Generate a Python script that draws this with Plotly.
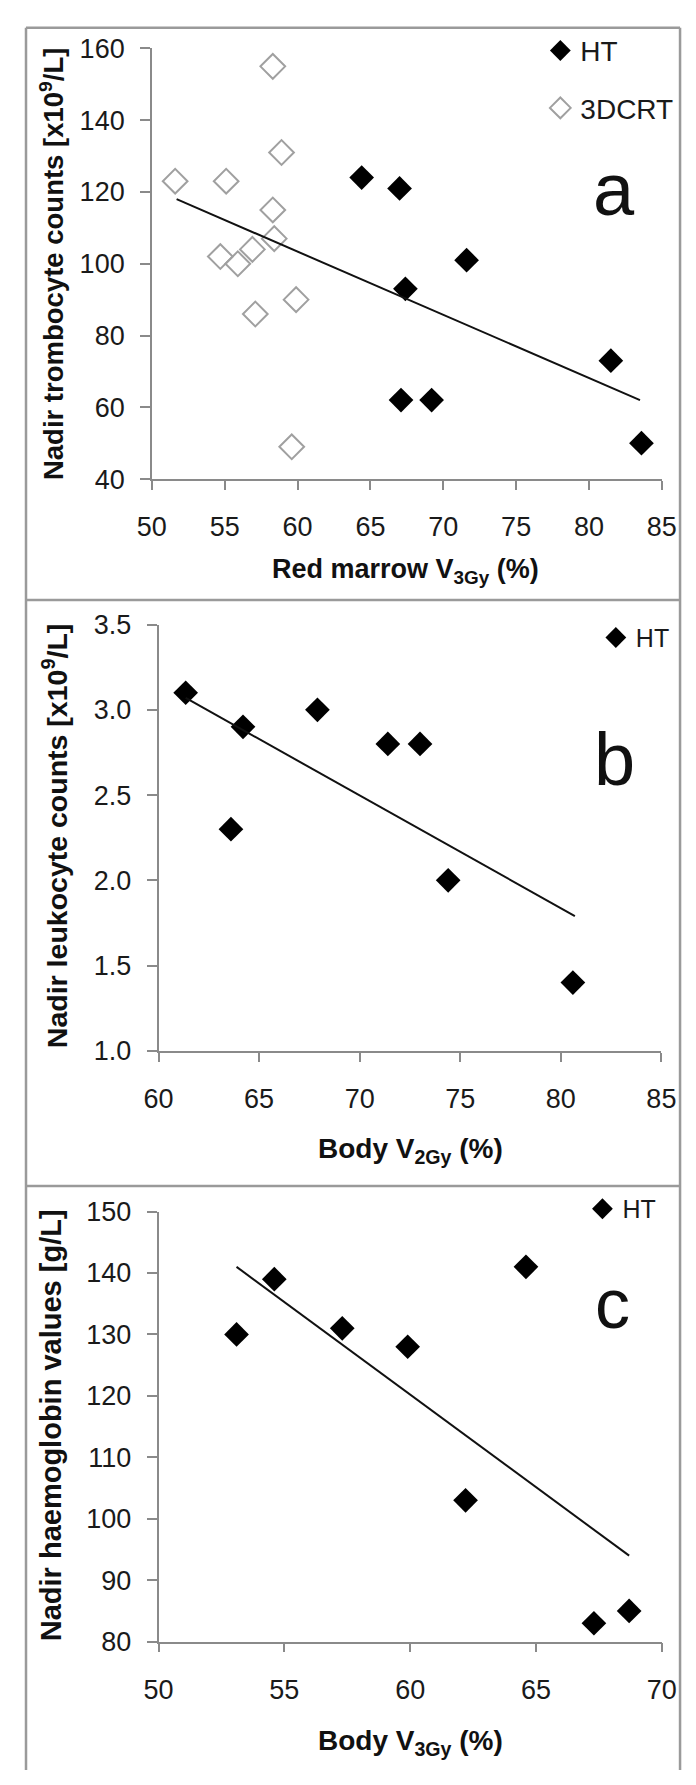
import plotly.graph_objects as go

# ---------------- data ----------------
# Panel a: Red marrow V3Gy (%) vs nadir thrombocyte counts
a_ht_x = [64.4, 67.0, 71.6, 67.4, 67.1, 69.2, 81.5, 83.6]
a_ht_y = [124, 121, 101, 93, 62, 62, 73, 50]
a_3d_x = [51.6, 55.1, 58.3, 58.9, 58.3, 58.4, 54.7, 55.9, 56.9, 57.1, 59.9, 59.6]
a_3d_y = [123, 123, 155, 131, 115, 107, 102, 100, 104, 86, 90, 49]
a_fit_x = [51.7, 83.5]
a_fit_y = [118, 62]

# Panel b: Body V2Gy (%) vs nadir leukocyte counts
b_ht_x = [61.35, 64.2, 67.9, 63.6, 71.4, 73.0, 74.4, 80.6]
b_ht_y = [3.1, 2.9, 3.0, 2.3, 2.8, 2.8, 2.0, 1.4]
b_fit_x = [61.35, 80.7]
b_fit_y = [3.07, 1.79]

# Panel c: Body V3Gy (%) vs nadir haemoglobin values
c_ht_x = [53.1, 54.6, 57.3, 59.9, 62.2, 64.6, 67.3, 68.7]
c_ht_y = [130, 139, 131, 128, 103, 141, 83, 85]
c_fit_x = [53.1, 68.7]
c_fit_y = [141, 94]

a_xticks = [50, 55, 60, 65, 70, 75, 80, 85]
a_yticks = [40, 60, 80, 100, 120, 140, 160]
b_xticks = [60, 65, 70, 75, 80, 85]
b_yticks = [1.0, 1.5, 2.0, 2.5, 3.0, 3.5]
c_xticks = [50, 55, 60, 65, 70]
c_yticks = [80, 90, 100, 110, 120, 130, 140, 150]

# ---------------- figure ----------------
W, H = 696, 1785
FONT = "Liberation Sans, Arial, sans-serif"
AXC = "#8a8a8a"
TXT = "#1a1a1a"


def px(x):
    return x / W


def py(y):
    return 1 - y / H


fig = go.Figure()

MS = 19
# panel a
fig.add_trace(go.Scatter(x=a_ht_x, y=a_ht_y, mode="markers", name="HT",
                         marker=dict(symbol="diamond", size=MS, color="black"),
                         xaxis="x", yaxis="y", legend="legend", cliponaxis=False))
fig.add_trace(go.Scatter(x=a_3d_x, y=a_3d_y, mode="markers", name="3DCRT",
                         marker=dict(symbol="diamond-open", size=MS, color="#a0a0a0",
                                     line=dict(width=2, color="#a0a0a0")),
                         xaxis="x", yaxis="y", legend="legend", legendgroup="g2",
                         cliponaxis=False))
fig.add_trace(go.Scatter(x=a_fit_x, y=a_fit_y, mode="lines", showlegend=False,
                         line=dict(color="#111111", width=2), xaxis="x", yaxis="y"))
# panel b
fig.add_trace(go.Scatter(x=b_ht_x, y=b_ht_y, mode="markers", name="HT",
                         marker=dict(symbol="diamond", size=MS, color="black"),
                         xaxis="x2", yaxis="y2", legend="legend2", cliponaxis=False))
fig.add_trace(go.Scatter(x=b_fit_x, y=b_fit_y, mode="lines", showlegend=False,
                         line=dict(color="#111111", width=2), xaxis="x2", yaxis="y2"))
# panel c
fig.add_trace(go.Scatter(x=c_ht_x, y=c_ht_y, mode="markers", name="HT",
                         marker=dict(symbol="diamond", size=MS, color="black"),
                         xaxis="x3", yaxis="y3", legend="legend3", cliponaxis=False))
fig.add_trace(go.Scatter(x=c_fit_x, y=c_fit_y, mode="lines", showlegend=False,
                         line=dict(color="#111111", width=2), xaxis="x3", yaxis="y3"))


def xaxis(dom, rng, ticks, anchor):
    return dict(domain=dom, range=rng, tickvals=ticks, anchor=anchor,
                showline=True, linecolor=AXC, linewidth=1.5, ticks="outside",
                ticklen=9, tickwidth=1.5, tickcolor=AXC, showgrid=False,
                zeroline=False, ticklabelstandoff=14,
                tickfont=dict(family=FONT, size=27, color=TXT))


def yaxis(dom, rng, ticks, anchor, fmt=None):
    d = dict(domain=dom, range=rng, tickvals=ticks, anchor=anchor,
             showline=True, linecolor=AXC, linewidth=1.5, ticks="outside",
             ticklen=10, tickwidth=1.5, tickcolor=AXC, showgrid=False,
             zeroline=False, ticklabelstandoff=10,
             tickfont=dict(family=FONT, size=27, color=TXT))
    if fmt:
        d["tickformat"] = fmt
    return d


layout = dict(
    width=W, height=H, margin=dict(l=0, r=0, t=0, b=0),
    paper_bgcolor="white", plot_bgcolor="white",
    font=dict(family=FONT, color=TXT),
    xaxis=xaxis([px(143), px(676)], [50, 85], a_xticks, "y"),
    yaxis=yaxis([py(472), py(34)], [40, 160], a_yticks, "x"),
    xaxis2=xaxis([px(150), px(675.5)], [60, 85], b_xticks, "y2"),
    yaxis2=yaxis([py(1053.5), py(620)], [1.0, 3.5], b_yticks, "x2", ".1f"),
    xaxis3=xaxis([px(150), px(676)], [50, 70], c_xticks, "y3"),
    yaxis3=yaxis([py(1654.5), py(1217)], [80, 150], c_yticks, "x3"),
    legend=dict(x=px(549), y=py(11), xanchor="left", yanchor="top",
                bgcolor="rgba(0,0,0,0)", font=dict(family=FONT, size=28, color=TXT),
                tracegroupgap=18, traceorder="grouped"),
    legend2=dict(x=px(607), y=py(610), xanchor="left", yanchor="top",
                 bgcolor="rgba(0,0,0,0)", font=dict(family=FONT, size=25, color=TXT)),
    legend3=dict(x=px(593), y=py(1191), xanchor="left", yanchor="top",
                 bgcolor="rgba(0,0,0,0)", font=dict(family=FONT, size=25, color=TXT)),
)
fig.update_layout(**layout)

# frame lines
FR = "#9a9a9a"
for (x0, y0, x1, y1) in [(11.5, 13, 695, 13), (11.5, 13, 11.5, 1785), (695, 13, 695, 1785),
                         (11.5, 595, 695, 595), (11.5, 1191, 695, 1191)]:
    fig.add_shape(type="line", xref="paper", yref="paper",
                  x0=px(x0), y0=py(y0), x1=px(x1), y1=py(y1),
                  line=dict(color=FR, width=2.5))

anns = [
    ("<b>Red marrow V<sub>3Gy</sub> (%)</b>", 408, 565, 0, 27),
    ("<b>Body V<sub>2Gy</sub> (%)</b>", 413, 1155, 0, 28),
    ("<b>Body V<sub>3Gy</sub> (%)</b>", 413, 1757, 0, 28),
    ("<b>Nadir trombocyte counts [x10<sup>9</sup>/L]</b>", 39, 253, -90, 27.5),
    ("<b>Nadir leukocyte counts [x10<sup>9</sup>/L]</b>", 42, 835, -90, 28.5),
    ("<b>Nadir haemoglobin values [g/L]</b>", 38, 1434, -90, 29),
    ("a", 626, 177, 0, 74),
    ("b", 627, 757, 0, 74),
    ("c", 624, 1311, 0, 70),
]
for text, x, y, ang, size in anns:
    fig.add_annotation(text=text, xref="paper", yref="paper", x=px(x), y=py(y),
                       xanchor="center", yanchor="middle", showarrow=False,
                       textangle=ang, font=dict(family=FONT, size=size, color="#111111"))

fig.write_html(
    "out.html",
    config={"displayModeBar": False},
    post_script="document.body.style.margin='0';document.body.style.overflow='hidden';",
)
